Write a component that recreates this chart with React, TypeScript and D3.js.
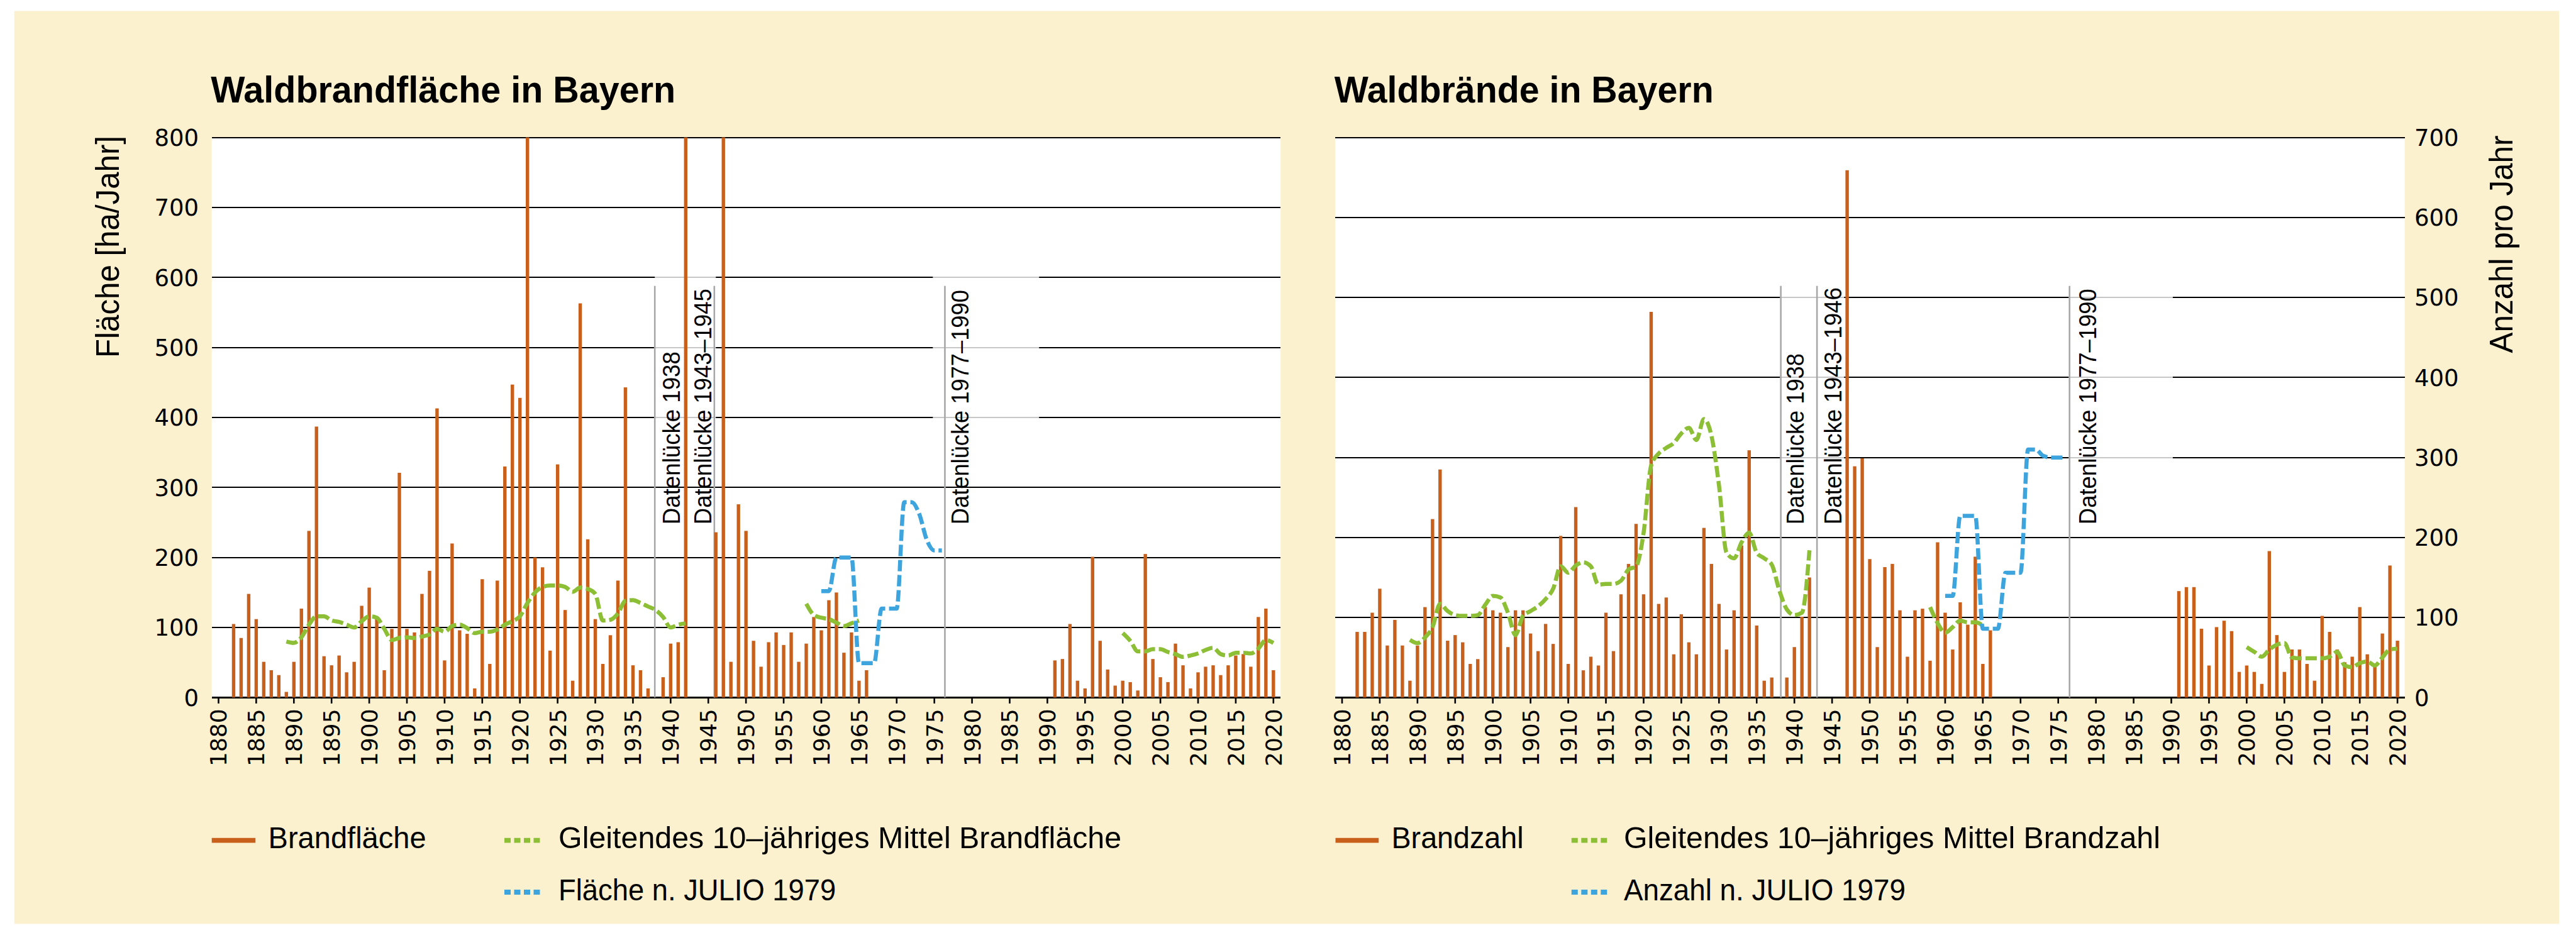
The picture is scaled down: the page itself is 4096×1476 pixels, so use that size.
import * as d3 from 'd3'

const W = 4096
const H = 1476

const SANS = '"Liberation Sans", Arial, sans-serif'
const NUM = '"DejaVu Sans", Verdana, sans-serif'

const BG = '#FCF1CF'
const BAR = '#C8601C'
const MEAN = '#8DBF36'
const JULIO = '#3DA4DD'
const GAP = '#A8A8A8'

const PLOT_TOP = 218.6
const PLOT_BOTTOM = 1109.4

const tickYears = d3.range(1880, 2021, 5)

// Brandfläche [ha/Jahr], null = Datenlücke
const areaEarly = [
  105, 85, 148, 112, 51, 39, 32, 8, // 1882–1889
  51, 127, 238, 387, 59, 46, 60, 36, 51, 131,
  157, 113, 39, 98, 321, 98, 93, 148, 181, 413,
  53, 220, 96, 91, 13, 169, 48, 167, 330, 447,
  428, 850, 200, 186, 67, 333, 125, 24, 563, 226,
  112, 48, 89, 167, 443, 46, 39, 13, null, 29,
  77, 79, 850, // 1940–1942
]
const areaPostwar = [
  236, 850, 51, 276, // 1946–1949
  238, 81, 44, 79, 93, 75, 93, 51, 77, 115,
  96, 139, 150, 64, 93, 24, 39, // 1960–1966
]
const areaRecent = [
  53, 55, 105, 24, 13, 201, 81, 40, 17, // 1991–1999
  24, 22, 10, 205, 55, 29, 22, 77, 46, 13,
  36, 44, 46, 32, 46, 60, 62, 44, 115, 127, 39, // 2010–2020
]

// Brandzahl [Anzahl pro Jahr]
const countEarly = [
  82, 82, 106, 136, 65, 97, 65, 21, // 1882–1889
  65, 113, 223, 285, 71, 78, 69, 42, 48, 113,
  109, 106, 63, 109, 109, 80, 58, 92, 67, 202,
  42, 238, 34, 51, 40, 106, 58, 129, 167, 217,
  129, 482, 117, 125, 54, 104, 69, 54, 212, 167,
  117, 60, 109, 190, 309, 90, 21, 25, null, 25,
  63, 101, 150, // 1940–1942
]
const countPostwar = [
  659, 289, 299, // 1947–1949
  173, 63, 163, 167, 109, 51, 109, 111, 46, 194,
  106, 60, 119, 91, 176, 42, 84, // 1960–1966
]
const countRecent = [
  133, 138, 138, 86, 40, 88, 96, 83, 32, // 1991–1999
  40, 32, 17, 183, 78, 32, 60, 60, 42, 21,
  102, 82, 60, 44, 51, 113, 54, 40, 80, 165, 71, // 2010–2020
]

// Gleitendes 10-jähriges Mittel
const areaMeanEarly = [
  80, // 1889
  78, 86, 104, 116, 116, 110, 108, 104, 100, 109,
  116, 114, 98, 82, 85, 86, 85, 87, 90, 98,
  94, 102, 104, 99, 92, 94, 94, 97, 104, 109,
  116, 135, 150, 158, 160, 160, 158, 151, 157, 155,
  148, 110, 111, 120, 138, 139, 135, 130, 125, 115,
  100, 104, 106, // 1940–1942
]
const areaMeanMid = [134, 118, 114, 112, 107, 102, 106, 110] // 1958–1965
const areaMeanRecent = [
  92, 81, 66, 66, 69, 69, 65, 62, 58, 60, // 2000–2009
  63, 68, 71, 62, 60, 64, 64, 63, 70, 82, 78,
]
const countMeanEarly = [
  72, // 1889
  68, 75, 88, 117, 108, 103, 102, 102, 103, 116,
  127, 125, 106, 78, 102, 108, 114, 123, 136, 164,
  156, 165, 169, 164, 141, 142, 142, 146, 160, 164,
  206, 290, 305, 312, 318, 330, 337, 322, 348, 327,
  265, 181, 174, 194, 206, 181, 174, 166, 134, 110,
  103, 106, 184, // 1940–1942
]
const countMeanMid = [113, 93, 81, 88, 96, 94, 94, 90] // 1958–1965
const countMeanRecent = [
  63, 57, 51, 60, 66, 68, 50, 49, 49, 49, // 2000–2009
  49, 51, 57, 40, 38, 43, 45, 40, 50, 60, 61,
]

// nach JULIO 1979, 1960–1976
const areaJulio = [152, 152, 200, 200, 200, 49, 49, 49, 127, 127, 127, 279, 279, 262, 225, 210, 210]
const countJulio = [127, 127, 227, 227, 227, 86, 86, 86, 156, 156, 156, 310, 310, 302, 300, 300, 300]

type Pt = { year: number; value: number | null }
const series = (start: number, values: (number | null)[]): Pt[] =>
  values.map((value, i) => ({ year: start + i, value }))

interface GapLabel {
  text: string
  year: number
  length: number
}

interface LegendText {
  text: string
  length: number
}

interface PanelSpec {
  x0: number
  x1: number
  yMax: number
  axisRight: boolean
  title: string
  titleLength: number
  axisTitle: string
  axisTitleX: number
  axisTitleY: number
  axisTitleLength: number
  bars: Pt[]
  means: Pt[][]
  julio: Pt[]
  gaps: number[]
  boxes: [number, number][]
  labels: GapLabel[]
  legendBarX: [number, number, number]
  legendLineX: [number, number, number]
  legend: [LegendText, LegendText, LegendText]
}

const leftPanel: PanelSpec = {
  x0: 336.7,
  x1: 2036.2,
  yMax: 800,
  axisRight: false,
  title: 'Waldbrandfläche in Bayern',
  titleLength: 739,
  axisTitle: 'Fläche [ha/Jahr]',
  axisTitleX: 188.6,
  axisTitleY: 216,
  axisTitleLength: 353,
  bars: [...series(1882, areaEarly), ...series(1946, areaPostwar), ...series(1991, areaRecent)],
  means: [series(1889, areaMeanEarly), series(1958, areaMeanMid), series(2000, areaMeanRecent)],
  julio: series(1960, areaJulio),
  gaps: [1937.9, 1945.8, 1976.4],
  boxes: [[1937.9, 1946.0], [1974.8, 1988.9]],
  labels: [
    { text: 'Datenlücke 1938', year: 1941.2, length: 275 },
    { text: 'Datenlücke 1943–1945', year: 1945.4, length: 375 },
    { text: 'Datenlücke 1977–1990', year: 1979.5, length: 373 },
  ],
  legendBarX: [336.7, 406.2, 426.6],
  legendLineX: [802, 862, 888.1],
  legend: [
    { text: 'Brandfläche', length: 251 },
    { text: 'Gleitendes 10–jähriges Mittel Brandfläche', length: 895 },
    { text: 'Fläche n. JULIO 1979', length: 441 },
  ],
}

const rightPanel: PanelSpec = {
  x0: 2123.2,
  x1: 3823.5,
  yMax: 700,
  axisRight: true,
  title: 'Waldbrände in Bayern',
  titleLength: 603,
  axisTitle: 'Anzahl pro Jahr',
  axisTitleX: 3995.4,
  axisTitleY: 215.5,
  axisTitleLength: 346,
  bars: [...series(1882, countEarly), ...series(1947, countPostwar), ...series(1991, countRecent)],
  means: [series(1889, countMeanEarly), series(1958, countMeanMid), series(2000, countMeanRecent)],
  julio: series(1960, countJulio),
  gaps: [1938.2, 1943.0, 1976.5],
  boxes: [[1938.1, 1946.6], [1976.4, 1990.2]],
  labels: [
    { text: 'Datenlücke 1938', year: 1941.2, length: 272 },
    { text: 'Datenlücke 1943–1946', year: 1946.2, length: 377 },
    { text: 'Datenlücke 1977–1990', year: 1980.0, length: 375 },
  ],
  legendBarX: [2123.5, 2192.2, 2212.5],
  legendLineX: [2498.8, 2556.3, 2581.9],
  legend: [
    { text: 'Brandzahl', length: 210 },
    { text: 'Gleitendes 10–jähriges Mittel Brandzahl', length: 853 },
    { text: 'Anzahl n. JULIO 1979', length: 448 },
  ],
}

function Panel(p: PanelSpec) {
  const x = d3.scaleLinear().domain([1879.1, 2020.95]).range([p.x0, p.x1])
  const y = d3.scaleLinear().domain([0, p.yMax]).range([PLOT_BOTTOM, PLOT_TOP]).clamp(true)
  // vertical position as share of the plot height (for annotations)
  const yAt = (f: number) => PLOT_BOTTOM - f * (PLOT_BOTTOM - PLOT_TOP)
  const yTicks = d3.range(0, p.yMax + 1, 100)
  const line = d3
    .line<Pt>()
    .defined((d) => d.value != null)
    .x((d) => x(d.year))
    .y((d) => y(d.value as number))
    .curve(d3.curveMonotoneX)
  const barW = 5.4
  const row1 = 1336.6
  const row2 = 1419

  return (
    <g>
      <rect x={p.x0} y={PLOT_TOP} width={p.x1 - p.x0} height={PLOT_BOTTOM - PLOT_TOP} fill='#fff' />

      {/* grid */}
      {yTicks.map((t) => (
        <line
          key={t}
          x1={p.x0}
          x2={p.x1}
          y1={Math.round(y(t))}
          y2={Math.round(y(t))}
          stroke='#000'
          strokeWidth={t === 0 ? 3 : 2}
          shapeRendering='crispEdges'
        />
      ))}

      {/* Datenlücke boxes + lines */}
      {p.boxes.map(([a, b], i) => (
        <rect
          key={i}
          x={x(a)}
          width={x(b) - x(a)}
          y={yAt(0.776)}
          height={yAt(0.401) - yAt(0.776)}
          fill='#fff'
          fillOpacity={0.78}
        />
      ))}
      {p.gaps.map((g) => (
        <line key={g} x1={x(g)} x2={x(g)} y1={yAt(0.735)} y2={PLOT_BOTTOM} stroke={GAP} strokeWidth={2.6} />
      ))}

      {/* bars */}
      {p.bars
        .filter((d) => d.value != null)
        .map((d) => (
          <rect
            key={d.year}
            x={x(d.year) - barW / 2}
            y={y(d.value as number)}
            width={barW}
            height={PLOT_BOTTOM - y(d.value as number)}
            fill={BAR}
          />
        ))}

      {/* lines */}
      {p.means.map((s, i) => (
        <path key={i} d={line(s) ?? ''} fill='none' stroke={MEAN} strokeWidth={6.5} strokeDasharray='18 6' />
      ))}
      <path d={line(p.julio) ?? ''} fill='none' stroke={JULIO} strokeWidth={6.5} strokeDasharray='18 6' />

      {/* x axis ticks + labels */}
      {tickYears.map((t) => (
        <g key={t}>
          <line x1={x(t)} x2={x(t)} y1={PLOT_BOTTOM} y2={PLOT_BOTTOM + 9.5} stroke='#000' strokeWidth={2.6} />
          <text
            transform={`translate(${x(t)},${PLOT_BOTTOM + 18}) rotate(-90)`}
            textAnchor='end'
            dy='0.36em'
            fontFamily={NUM}
            fontSize={36}
            fill='#000'
          >
            {t}
          </text>
        </g>
      ))}

      {/* y labels */}
      {yTicks.map((t) => (
        <text
          key={t}
          x={p.axisRight ? p.x1 + 15.5 : p.x0 - 20.7}
          y={y(t)}
          dy='0.36em'
          textAnchor={p.axisRight ? 'start' : 'end'}
          fontFamily={NUM}
          fontSize={37}
          fill='#000'
        >
          {t}
        </text>
      ))}

      {/* gap labels */}
      {p.labels.map((l) => (
        <text
          key={l.text}
          transform={`translate(${x(l.year)},${yAt(0.309)}) rotate(-90)`}
          fontFamily={SANS}
          fontSize={39}
          textLength={l.length}
          lengthAdjust='spacingAndGlyphs'
          fill='#000'
        >
          {l.text}
        </text>
      ))}

      {/* titles */}
      <text
        x={p.x0 - 1.5}
        y={162.5}
        fontFamily={SANS}
        fontWeight='bold'
        fontSize={60}
        textLength={p.titleLength}
        lengthAdjust='spacingAndGlyphs'
        fill='#000'
      >
        {p.title}
      </text>
      <text
        transform={`translate(${p.axisTitleX},${p.axisTitleY}) rotate(-90)`}
        textAnchor='end'
        fontFamily={SANS}
        fontSize={52}
        textLength={p.axisTitleLength}
        lengthAdjust='spacingAndGlyphs'
        fill='#000'
      >
        {p.axisTitle}
      </text>

      {/* legend */}
      <line x1={p.legendBarX[0]} x2={p.legendBarX[1]} y1={row1} y2={row1} stroke={BAR} strokeWidth={7.8} />
      <line
        x1={p.legendLineX[0]}
        x2={p.legendLineX[1]}
        y1={row1}
        y2={row1}
        stroke={MEAN}
        strokeWidth={7.8}
        strokeDasharray='10 5.5'
      />
      <line
        x1={p.legendLineX[0]}
        x2={p.legendLineX[1]}
        y1={row2}
        y2={row2}
        stroke={JULIO}
        strokeWidth={7.8}
        strokeDasharray='10 5.5'
      />
      {[
        { t: p.legend[0], x: p.legendBarX[2], y: row1 },
        { t: p.legend[1], x: p.legendLineX[2], y: row1 },
        { t: p.legend[2], x: p.legendLineX[2], y: row2 },
      ].map((d) => (
        <text
          key={d.t.text}
          x={d.x}
          y={d.y + 12.5}
          fontFamily={SANS}
          fontSize={48}
          textLength={d.t.length}
          lengthAdjust='spacingAndGlyphs'
          fill='#000'
        >
          {d.t.text}
        </text>
      ))}
    </g>
  )
}

export default function App() {
  return (
    <div style={{ width: W, height: H }}>
      <style>{'html,body{margin:0;padding:0;background:#fff}'}</style>
      <svg width={W} height={H} viewBox={`0 0 ${W} ${H}`} style={{ display: 'block' }}>
        <rect x={22.7} y={17.4} width={4046.3} height={1452} fill={BG} />
        <Panel {...leftPanel} />
        <Panel {...rightPanel} />
      </svg>
    </div>
  )
}
